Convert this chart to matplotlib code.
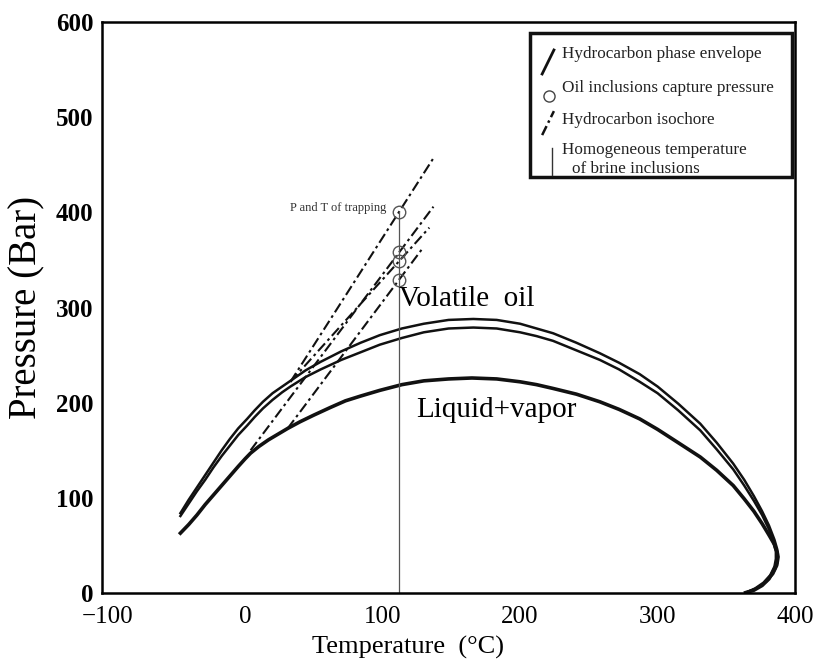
import matplotlib.pyplot as plt
from matplotlib.patches import Rectangle

plt.rcParams['font.family'] = ['Liberation Serif', 'DejaVu Serif']

# phase envelopes (temperature degC, pressure bar)
envA_T = [-47, -41, -35, -29, -23, -17, -11, -5, 1.5, 7, 13, 20, 27, 33, 44, 55, 70, 84, 98, 114,
          130, 148, 166, 183, 200, 212, 224, 241, 258, 272, 287, 300, 315, 331, 343, 355, 363, 370,
          376, 381, 385, 387, 388, 387, 384, 379, 372, 365]
envA_P = [84, 98, 111, 124, 137, 150, 162, 173, 183, 192, 201, 210, 217, 223, 234, 243, 254, 263, 271, 278,
          283, 287, 288, 287, 283, 278, 273, 263, 252, 242, 230, 217, 199, 178, 158, 136, 119, 102,
          86, 71, 56, 46, 38, 29, 20, 12, 5, 1]

envB_T = [-47, -41, -35, -29, -23, -17, -11, -5, 1.5, 7, 13, 20, 27, 33, 44, 55, 70, 84, 98, 114,
          130, 148, 166, 183, 200, 212, 224, 241, 258, 272, 287, 300, 315, 331, 343, 355, 363, 370,
          376, 381, 384, 386, 386, 385, 382, 377, 371, 365]
envB_P = [81, 94, 107, 119, 132, 144, 155, 166, 176, 185, 194, 203, 211, 217, 227, 235, 245, 253, 261, 268,
          274, 278, 279, 278, 274, 270, 265, 255, 245, 235, 222, 210, 192, 171, 151, 130, 113, 97,
          82, 67, 54, 44, 36, 28, 19, 11, 5, 1]

envC_T = [-47, -41, -35, -29, -23, -17, -11, -5, 0, 4, 10, 17, 24, 31, 40, 50, 62, 73, 84, 98,
          114, 130, 148, 165, 183, 200, 212, 224, 241, 258, 272, 287, 300, 315, 331, 343, 355, 363,
          370, 376, 381, 385, 387, 387, 385, 381, 376, 370, 364]
envC_P = [63, 72, 82, 93, 103, 113, 123, 133, 141, 147, 154, 161, 167, 173, 180, 187, 195, 202, 207, 213,
          219, 223, 225, 226, 225, 222, 219, 215, 209, 201, 193, 183, 172, 158, 143, 129, 113, 99,
          86, 73, 61, 51, 42, 33, 25, 15, 8, 3, 0.5]

# isochores: start and end points
iso_T = [[33, 137], [4, 137], [33, 134], [31, 129]]
iso_P = [[222, 457], [150, 406], [222, 384], [173, 362]]

# trapping conditions
th_brine = 112
trap_P = [400, 358, 349, 329]

fig = plt.figure(figsize=(8.13, 6.59), dpi=100)
ax = fig.add_axes([0.1255, 0.100, 0.8525, 0.8666])

ax.plot(envA_T, envA_P, color='#111111', lw=1.8)
ax.plot(envB_T, envB_P, color='#111111', lw=1.8)
ax.plot(envC_T, envC_P, color='#111111', lw=2.6)

for t, p in zip(iso_T, iso_P):
    ax.plot(t, p, color='#111111', lw=1.5, dashes=[5, 1.8, 1.3, 1.8])

ax.plot([th_brine, th_brine], [0, max(trap_P)], color='#555555', lw=0.9)
ax.plot([th_brine] * len(trap_P), trap_P, 'o', ms=9, mfc='none', mec='#555555', mew=1.0)

ax.text(103, 405, 'P and T of trapping', fontsize=9, ha='right', va='center', color='#333333')
ax.text(161, 309, 'Volatile  oil', fontsize=21, ha='center', va='center')
ax.text(183, 192, 'Liquid+vapor', fontsize=21, ha='center', va='center')

ax.set_xlim(-104, 400)
ax.set_ylim(0, 600)
ax.set_xticks([-100, 0, 100, 200, 300, 400])
ax.set_xticklabels(['\u2212100', '0', '100', '200', '300', '400'])
ax.set_yticks([0, 100, 200, 300, 400, 500, 600])
ax.tick_params(length=0, labelsize=18, pad=6)
ax.tick_params(axis='x', pad=9)
for lab in ax.get_yticklabels():
    lab.set_fontweight('bold')
ax.set_xticks([400], minor=True)
ax.set_yticks([600], minor=True)
ax.tick_params(which='minor', length=7, width=1.6)
for s in ax.spines.values():
    s.set_linewidth(1.8)

ax.set_xlabel('Temperature  (\u00b0C)', fontsize=19)
ax.xaxis.set_label_coords(0.442, -0.075)
ax.set_ylabel('Pressure (Bar)', fontsize=28, labelpad=8)

# legend drawn by hand
tr = ax.transAxes
ax.add_patch(Rectangle((0.618, 0.729), 0.377, 0.252, transform=tr, fill=True,
                       fc='white', ec='#111111', lw=2.5, zorder=5))
ax.plot([0.635, 0.652], [0.909, 0.951], transform=tr, color='#111111', lw=2, zorder=6)
ax.plot([0.645], [0.870], 'o', transform=tr, ms=8, mfc='none', mec='#444444', mew=1, zorder=6)
ax.plot([0.635, 0.652], [0.802, 0.844], transform=tr, color='#111111', lw=1.8,
        dashes=[4, 1.5, 1, 1.5], zorder=6)
ax.plot([0.649, 0.649], [0.732, 0.779], transform=tr, color='#333333', lw=1, zorder=6)
lg_kw = dict(transform=tr, fontsize=12.3, va='center', ha='left', zorder=6, color='#222222')
ax.text(0.664, 0.944, 'Hydrocarbon phase envelope', **lg_kw)
ax.text(0.664, 0.884, 'Oil inclusions capture pressure', **lg_kw)
ax.text(0.664, 0.828, 'Hydrocarbon isochore', **lg_kw)
ax.text(0.664, 0.776, 'Homogeneous temperature', **lg_kw)
ax.text(0.678, 0.742, 'of brine inclusions', **lg_kw)

fig.savefig('out.png', dpi=100)
